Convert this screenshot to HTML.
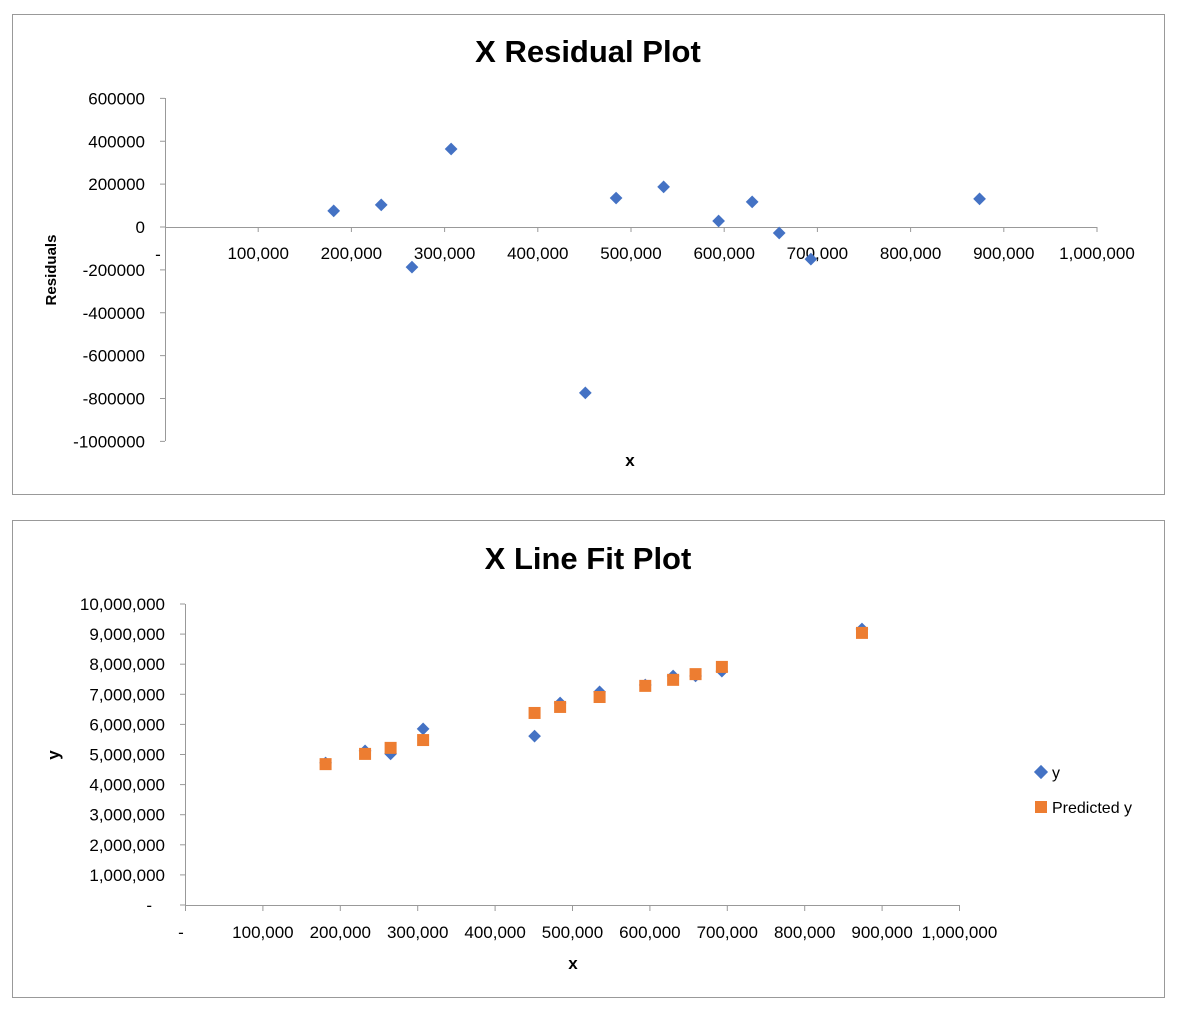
<!DOCTYPE html>
<html><head><meta charset="utf-8"><style>
html,body{margin:0;padding:0;background:#fff;}
svg{display:block;font-family:"Liberation Sans",sans-serif;}
</style></head><body>
<svg id="s" width="1178" height="1012">
<rect x="12.5" y="14.5" width="1152" height="480" fill="#fff" stroke="#999"/>
<rect x="12.5" y="520.5" width="1152" height="477" fill="#fff" stroke="#999"/>
<text x="588" y="62" text-anchor="middle" font-size="31" font-weight="bold">X  Residual Plot</text>
<text x="588" y="569" text-anchor="middle" font-size="31" font-weight="bold">X Line Fit  Plot</text>
<text x="630" y="466" text-anchor="middle" font-size="17" font-weight="bold">x</text>
<text transform="translate(56,270) rotate(-90)" text-anchor="middle" font-size="15" font-weight="bold">Residuals</text>
<text x="573" y="969" text-anchor="middle" font-size="17" font-weight="bold">x</text>
<text transform="translate(59,755) rotate(-90)" text-anchor="middle" font-size="17" font-weight="bold">y</text>
<g>
<rect x="1036" y="767" width="10" height="10" fill="#4472C4" transform="rotate(45 1041 772)"/>
<text x="1052" y="778" font-size="16">y</text>
<rect x="1035" y="801" width="12" height="12" fill="#ED7D31"/>
<text x="1052" y="813" font-size="16">Predicted y</text>
</g>
<g id="g1"></g><g id="g2"></g>
</svg>
<script>
const xVals=[181000,232000,265000,307000,451000,484000,535000,594000,630000,659000,693000,874000];
const residuals=[75000,103000,-187000,364000,-774000,135000,187000,28000,117000,-28000,-150000,131000];
const yVals=[4720000,5120000,5020000,5850000,5610000,6710000,7080000,7310000,7610000,7610000,7770000,9170000];
const predY=[4680000,5020000,5220000,5480000,6380000,6580000,6910000,7280000,7480000,7670000,7910000,9040000];
const resTicks=[600000,400000,200000,0,-200000,-400000,-600000,-800000,-1000000];
const resTickLabels=["600000","400000","200000","0","-200000","-400000","-600000","-800000","-1000000"];
const xTicks=[0,100000,200000,300000,400000,500000,600000,700000,800000,900000,1000000];
const xTickLabels=["-","100,000","200,000","300,000","400,000","500,000","600,000","700,000","800,000","900,000","1,000,000"];
const yTicks=[0,1e6,2e6,3e6,4e6,5e6,6e6,7e6,8e6,9e6,1e7];
const yTickLabels=["-","1,000,000","2,000,000","3,000,000","4,000,000","5,000,000","6,000,000","7,000,000","8,000,000","9,000,000","10,000,000"];
const NS="http://www.w3.org/2000/svg";
function mk(p,t,a){const e=document.createElementNS(NS,t);for(const k in a)e.setAttribute(k,a[k]);p.appendChild(e);return e;}
// chart 1
const g1=document.getElementById('g1');
const x1=v=>165+v/1e6*932, y1=v=>227-(v)/1.6e6*343;
let ax=mk(g1,'line',{x1:165.5,y1:98,x2:165.5,y2:441,stroke:'#999'});

ax=mk(g1,'line',{x1:165,y1:227.5,x2:1097,y2:227.5,stroke:'#999'});

resTicks.forEach((v,i)=>{const y=y1(v);
 mk(g1,'line',{x1:160,y1:y,x2:165,y2:y,stroke:'#999'});
 const t=mk(g1,'text',{x:145,y:y+6,'text-anchor':'end','font-size':17});t.textContent=resTickLabels[i];
 });
const dash=mk(g1,'text',{x:158,y:260,'text-anchor':'middle','font-size':17});dash.textContent='-';

xTicks.forEach((v,i)=>{if(i===0)return;const x=x1(v);
 mk(g1,'line',{x1:x,y1:227,x2:x,y2:232,stroke:'#999'});
 const t=mk(g1,'text',{x:x,y:259,'text-anchor':'middle','font-size':17});t.textContent=xTickLabels[i];
 });
xVals.forEach((v,i)=>{const cx=x1(v),cy=y1(residuals[i]);
 const r=mk(g1,'rect',{x:cx-4.5,y:cy-4.5,width:9,height:9,fill:'#4472C4',transform:`rotate(45 ${cx} ${cy})`});
 });
// chart 2
const g2=document.getElementById('g2');
const x2=v=>185.5+v/1e6*774, y2=v=>905-v/1e7*301;
ax=mk(g2,'line',{x1:185.5,y1:604,x2:185.5,y2:905,stroke:'#999'});

ax=mk(g2,'line',{x1:185,y1:905.5,x2:960,y2:905.5,stroke:'#999'});

yTicks.forEach((v,i)=>{const y=y2(v);
 mk(g2,'line',{x1:180,y1:y,x2:185,y2:y,stroke:'#999'});
 const t=mk(g2,'text',{x:165,y:y+6,'text-anchor':'end','font-size':17});t.textContent=yTickLabels[i];
 if(i===0)t.setAttribute('x',152);
 });
xTicks.forEach((v,i)=>{const x=x2(v);
 mk(g2,'line',{x1:x,y1:905,x2:x,y2:911,stroke:'#999'});
 const t=mk(g2,'text',{x:i===0?181:x,y:938,'text-anchor':'middle','font-size':17});t.textContent=xTickLabels[i];
 });
xVals.forEach((v,i)=>{const cx=x2(v),cy=y2(yVals[i]);
 const r=mk(g2,'rect',{x:cx-4.5,y:cy-4.5,width:9,height:9,fill:'#4472C4',transform:`rotate(45 ${cx} ${cy})`});
 });
xVals.forEach((v,i)=>{const cx=x2(v),cy=y2(predY[i]);
 const r=mk(g2,'rect',{x:cx-6,y:cy-6,width:12,height:12,fill:'#ED7D31'});
 });
</script>
</body></html>
